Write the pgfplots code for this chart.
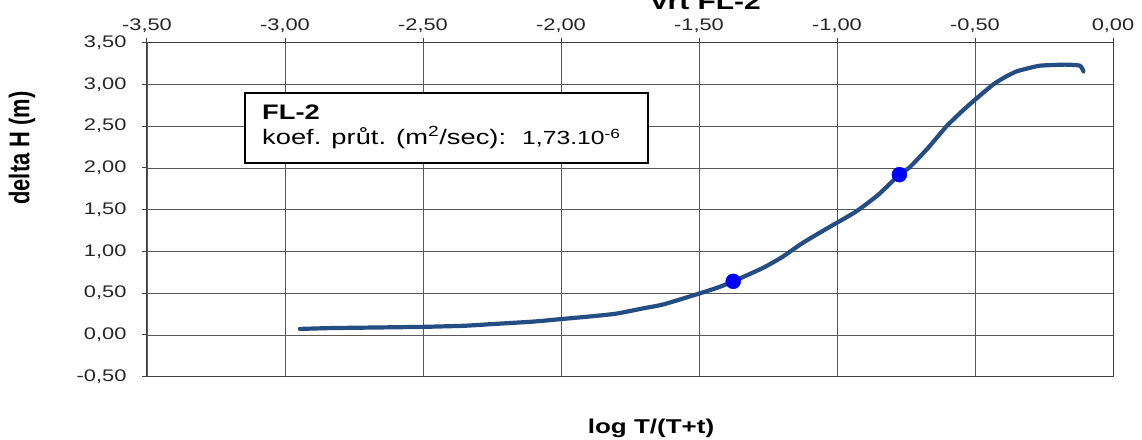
\documentclass[border=0pt]{standalone}
\usepackage{fontspec}
\setmainfont{Liberation Sans}
\usepackage{graphicx}
\usepackage{pgfplots}
\pgfplotsset{compat=1.18}
\definecolor{curve}{HTML}{244D84}
\definecolor{mk}{HTML}{0000FF}
\newcommand\sx[1]{\scalebox{1.3}[1]{#1}}
\pgfplotstableread{
x y
-2.946 0.072
-2.84 0.082
-2.70 0.088
-2.50 0.097
-2.35 0.110
-2.25 0.130
-2.10 0.160
-2.00 0.190
-1.90 0.220
-1.80 0.255
-1.70 0.320
-1.63 0.365
-1.50 0.495
-1.43 0.570
-1.376 0.642
-1.27 0.800
-1.20 0.930
-1.13 1.090
-1.07 1.210
-1.013 1.320
-0.93 1.480
-0.85 1.680
-0.774 1.920
-0.736 2.010
-0.67 2.240
-0.603 2.500
-0.55 2.670
-0.506 2.800
-0.434 3.000
-0.39 3.090
-0.349 3.157
-0.30 3.200
-0.264 3.225
-0.20 3.235
-0.168 3.237
-0.12 3.225
-0.107 3.157
}\curvedata
\pgfplotstableread{
x y
-1.376 0.642
-0.774 1.920
}\markdata
\begin{document}
\begin{tikzpicture}
\begin{axis}[
  at={(0,0)}, anchor=south west,
  scale only axis, width=966pt, height=334pt,
  xmin=-3.5, xmax=0, ymin=-0.5, ymax=3.5,
  xtick={-3.5,-3,-2.5,-2,-1.5,-1,-0.5,0},
  ytick={-0.5,0,0.5,1,1.5,2,2.5,3,3.5},
  xticklabels={\sx{-3,50},\sx{-3,00},\sx{-2,50},\sx{-2,00},\sx{-1,50},\sx{-1,00},\sx{-0,50},\sx{0,00}},
  yticklabels={\sx{-0,50},\sx{0,00},\sx{0,50},\sx{1,00},\sx{1,50},\sx{2,00},\sx{2,50},\sx{3,00},\sx{3,50}},
  xtick pos=right, xticklabel pos=right, ytick pos=left,
  tick align=outside, major tick length=5pt,
  grid=major, major grid style={black!65, line width=0.9pt},
  axis line style={black!75, line width=1pt},
  tick style={black!75, line width=1pt},
  ticklabel style={font=\fontsize{16.8}{20}\selectfont, text=black!85},
  yticklabel style={xshift=-12pt},
  xticklabel style={yshift=2pt},
  clip=false,
]
\addplot[curve, line width=4.2pt, line join=round, line cap=round, smooth, tension=0.35] table[x=x,y=y] {\curvedata};
\addplot[only marks, mark=*, mark size=7.5pt, mark options={draw=mk, fill=mk}] table[x=x,y=y] {\markdata};
\end{axis}
% annotation box
\draw[line width=1.8pt, fill=white] (98pt,283.4pt) rectangle (501pt,213.4pt);
\node[anchor=base west, inner sep=0pt, font=\fontsize{21}{24}\selectfont\bfseries] at (115pt,256.7pt) {\sx{FL-2}};
\node[anchor=base west, inner sep=0pt, font=\fontsize{21}{24}\selectfont] at (115pt,232.4pt) {\sx{koef. průt. (m\textsuperscript{2}/sec):}};
\node[anchor=base west, inner sep=0pt, font=\fontsize{19}{24}\selectfont] at (375pt,232.4pt) {\sx{1,73.10\textsuperscript{-6}}};
% labels
\node[anchor=base, inner sep=0pt, font=\fontsize{23}{26}\selectfont\bfseries] at (558pt,366.7pt) {\sx{Vrt FL-2}};
\node[inner sep=0pt, font=\fontsize{20}{24}\selectfont\bfseries] at (504pt,-51.3pt) {\sx{log T/(T+t)}};
\node[rotate=90, inner sep=0pt, font=\fontsize{21.9}{24}\selectfont\bfseries] at (-125pt,228.7pt) {\scalebox{1}[1.3]{delta H (m)}};
\pgfresetboundingbox
\path[use as bounding box] (-147pt,-62.3pt) rectangle (995pt,376.7pt);
\end{tikzpicture}
\end{document}
